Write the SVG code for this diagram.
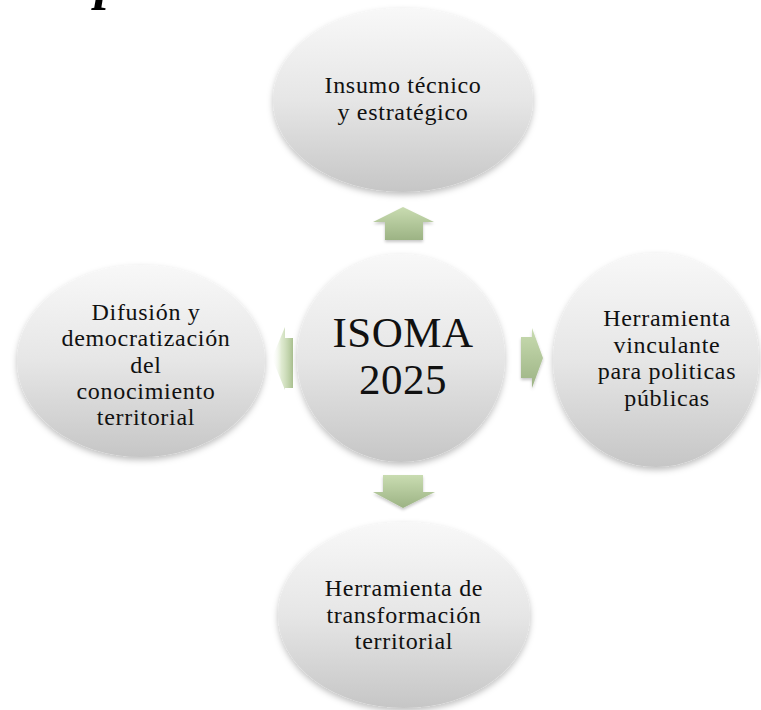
<svg xmlns="http://www.w3.org/2000/svg" width="761" height="710" viewBox="0 0 761 710">
<defs>
<linearGradient id="nodeFill" x1="0" y1="0" x2="0" y2="1">
<stop offset="0" stop-color="#f8f8f8"/>
<stop offset="0.5" stop-color="#e6e6e6"/>
<stop offset="1" stop-color="#c6c6c6"/>
</linearGradient>
<linearGradient id="arrowFill" x1="0" y1="0" x2="0" y2="1">
<stop offset="0" stop-color="#c9dcb1"/>
<stop offset="1" stop-color="#9cb384"/>
</linearGradient>
<linearGradient id="arrowLeft" x1="0" y1="0" x2="1" y2="0">
<stop offset="0" stop-color="#ffffff" stop-opacity="0"/>
<stop offset="0.45" stop-color="#c9dcb1" stop-opacity="0.6"/>
<stop offset="1" stop-color="#a9c08f"/>
</linearGradient>
<filter id="shadow" x="-20%" y="-20%" width="140%" height="150%">
<feDropShadow dx="0" dy="3" stdDeviation="3" flood-color="#000" flood-opacity="0.25"/>
</filter>
<filter id="ashadow" x="-30%" y="-30%" width="160%" height="170%">
<feDropShadow dx="0" dy="2" stdDeviation="1.5" flood-color="#000" flood-opacity="0.22"/>
</filter>
</defs>
<style>
.node{fill:url(#nodeFill);filter:url(#shadow);}
.arrow{fill:url(#arrowFill);filter:url(#ashadow);}
.t{font-family:"Liberation Serif","Times New Roman",serif;font-size:24px;letter-spacing:0.7px;fill:#111;text-anchor:middle;}
.big{font-family:"Liberation Serif","Times New Roman",serif;font-size:43px;letter-spacing:0.5px;fill:#111;text-anchor:middle;}
.head{font-family:"Liberation Serif","Times New Roman",serif;font-size:54px;font-weight:bold;font-style:italic;fill:#000;}
</style>
<rect width="761" height="710" fill="#ffffff"/>
<text class="head" x="95" y="-2">p</text>
<g id="connectors">
<polygon class="arrow" points="403,207 434,222 423,222 423,240 385,240 385,222 373,222"/>
<polygon class="arrow" points="383,475 423,475 423,492 435,492 403,508 373,492 383,492"/>
<polygon class="arrow" points="521,337 532,337 532,328 543,358 532,388 532,378 521,378"/>
<polygon fill="url(#arrowLeft)" points="293,338 285,338 285,327 272,358 285,390 285,388 293,388"/>
</g>
<g id="node-top">
<ellipse class="node" cx="403" cy="100" rx="130" ry="92"/>
<text class="t" x="403" y="93">Insumo técnico</text>
<text class="t" x="403" y="120">y estratégico</text>
</g>
<g id="node-left">
<ellipse class="node" cx="141" cy="361" rx="124" ry="96"/>
<text class="t" x="146" y="320">Difusión y</text>
<text class="t" x="146" y="346">democratización</text>
<text class="t" x="146" y="373">del</text>
<text class="t" x="146" y="399">conocimiento</text>
<text class="t" x="146" y="425">territorial</text>
</g>
<g id="node-right">
<ellipse class="node" cx="656" cy="360" rx="103" ry="107"/>
<text class="t" x="667" y="326">Herramienta</text>
<text class="t" x="667" y="353">vinculante</text>
<text class="t" x="667" y="379">para politicas</text>
<text class="t" x="667" y="406">públicas</text>
</g>
<g id="node-bottom">
<ellipse class="node" cx="404" cy="615" rx="126" ry="93"/>
<text class="t" x="404" y="596">Herramienta de</text>
<text class="t" x="404" y="623">transformación</text>
<text class="t" x="404" y="649">territorial</text>
</g>
<g id="node-center">
<circle class="node" cx="401" cy="358" r="104"/>
<text class="big" x="403" y="347">ISOMA</text>
<text class="big" x="403" y="394">2025</text>
</g>
</svg>
